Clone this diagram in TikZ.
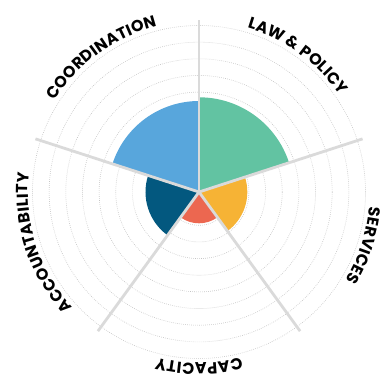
\documentclass[tikz,border=0pt]{standalone}
\usepackage{fontspec}
\newfontfamily\labfont{Poppins}
\usetikzlibrary{decorations.text}
\definecolor{lawc}{HTML}{62C3A2}
\definecolor{servc}{HTML}{F6B335}
\definecolor{capc}{HTML}{EC6750}
\definecolor{accc}{HTML}{03587F}
\definecolor{coorc}{HTML}{58A6DC}
\definecolor{spokec}{HTML}{DADADA}
\definecolor{ringc}{HTML}{C4C4C4}
\newcommand\labsty{\labfont\bfseries\fontsize{16}{17}\selectfont}
\newcommand\ls{\kern0.3pt}
\tikzset{
  ring/.style={draw=ringc, line width=0.6pt, dash pattern=on 0.7pt off 1.3pt},
  spoke/.style={draw=spokec, line width=2.8pt},
  lab/.style={decorate, decoration={text along path, text align=center, text={#1}}}
}
\begin{document}
\begin{tikzpicture}[x=1pt,y=1pt]
\useasboundingbox (0,0) rectangle (382,376);
\coordinate (c) at (199,184);
% rings
\foreach \k in {1,...,10} \draw[ring] (c) circle[radius=16.65*\k];
% sectors
\fill[lawc] (c) -- ([shift={(90:94.7)}]c) arc[start angle=90,end angle=18,radius=94.7] -- cycle;
\fill[servc] (c) -- ([shift={(18:48.3)}]c) arc[start angle=18,end angle=-54,radius=48.3] -- cycle;
\fill[capc] (c) -- ([shift={(-54:31.3)}]c) arc[start angle=-54,end angle=-126,radius=31.3] -- cycle;
\fill[accc] (c) -- ([shift={(-126:53.5)}]c) arc[start angle=-126,end angle=-198,radius=53.5] -- cycle;
\fill[coorc] (c) -- ([shift={(162:91)}]c) arc[start angle=162,end angle=90,radius=91] -- cycle;
% spokes
\foreach \a/\n in {90/s1,18/s2,-54/s3,-126/s4,162/s5} {
  \coordinate (\n) at ([shift={(\a:172)}]c);
  \draw[spoke] (c) -- (\n);
}
% labels
\path[lab={|\labsty|{C\ls}{O\ls}{O\ls}{R\ls}{D\ls}{I\ls}{N\ls}{A\ls}{T\ls}{I\ls}{O\ls}{N}}]
  ([shift={(166:171)}]c) arc[start angle=166,end angle=86,radius=171];
\path[lab={|\labsty|{L\ls}{A\ls}{W\ls}{\ \ls}{\&\ls}{\ \ls}{P\ls}{O\ls}{L\ls}{I\ls}{C\ls}{Y}}]
  ([shift={(94:171)}]c) arc[start angle=94,end angle=14,radius=171];
\path[lab={|\labsty|{S\ls}{E\ls}{R\ls}{V\ls}{I\ls}{C\ls}{E\ls}{S}}]
  ([shift={(22:171)}]c) arc[start angle=22,end angle=-58,radius=171];
\path[lab={|\labsty|{C\ls}{A\ls}{P\ls}{A\ls}{C\ls}{I\ls}{T\ls}{Y}}]
  ([shift={(-50:171)}]c) arc[start angle=-50,end angle=-130,radius=171];
\path[lab={|\labsty|{A\ls}{C\ls}{C\ls}{O\ls}{U\ls}{N\ls}{T\ls}{A\ls}{B\ls}{I\ls}{L\ls}{I\ls}{T\ls}{Y}}]
  ([shift={(238:171)}]c) arc[start angle=238,end angle=158,radius=171];
\end{tikzpicture}
\end{document}
